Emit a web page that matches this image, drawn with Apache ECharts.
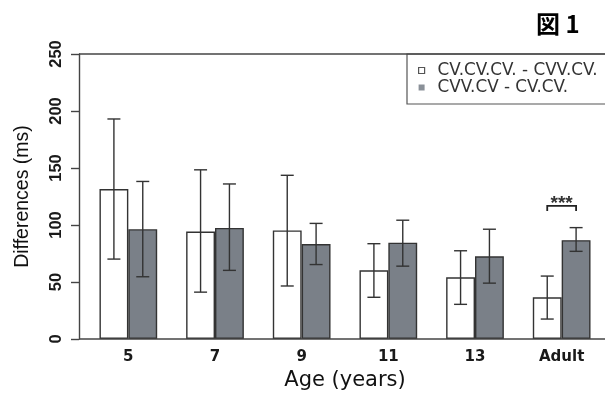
<!DOCTYPE html>
<html>
<head>
<meta charset="utf-8">
<script src="https://cdn.jsdelivr.net/npm/echarts@6/dist/echarts.min.js"></script>
<style>
html,body{margin:0;padding:0;background:#fff;}
#c{width:605px;height:396px;}
</style>
</head>
<body>
<div id="c"></div>
<script>
// ---- data ----
var categories = ['5', '7', '9', '11', '13', 'Adult'];
var seriesNames = ['CV.CV.CV. - CVV.CV.', 'CVV.CV - CV.CV.'];
var whiteMean = [131.5, 94.3, 95.2, 60.2, 54.1, 36.6];
var whiteHigh = [193, 148.4, 143.6, 83.6, 77.4, 55.2];
var whiteLow  = [70.1, 41.1, 46.5, 36.6, 30.4, 17.5];
var greyMean  = [96.3, 97.4, 83.3, 84.5, 72.6, 86.7];
var greyHigh  = [138.2, 136, 101.4, 104.2, 96.3, 97.7];
var greyLow   = [54.6, 60.2, 65.3, 63.9, 49, 76.9];
var yTicks = [0, 50, 100, 150, 200, 250];
var sigCategory = ['Adult'];
var sigTop = [116.8];
var sigLegBottom = [112.3];
var sigLabel = ['***'];

var LINE = '#444';
var GREY = '#7a8088';

function errData(lo, hi) {
  return categories.map(function (c, i) { return [i, lo[i], hi[i]]; });
}
function errRender(side) {
  return function (params, api) {
    var i = api.value(0);
    var pLo = api.coord([i, api.value(1)]);
    var pHi = api.coord([i, api.value(2)]);
    var band = api.size([1, 0])[0];
    var x = pLo[0] + side * band * (1 - 0.334) / 4;
    var cap = 6.5;
    var st = { stroke: '#333', lineWidth: 1.4 };
    return {
      type: 'group',
      children: [
        { type: 'line', shape: { x1: x, y1: pLo[1], x2: x, y2: pHi[1] }, style: st },
        { type: 'line', shape: { x1: x - cap, y1: pHi[1], x2: x + cap, y2: pHi[1] }, style: st },
        { type: 'line', shape: { x1: x - cap, y1: pLo[1], x2: x + cap, y2: pLo[1] }, style: st }
      ]
    };
  };
}

var chart = echarts.init(document.getElementById('c'), null, { renderer: 'canvas' });
var option = {
  animation: false,
  backgroundColor: '#fff',
  title: {
    text: '図 1', left: 536, top: 12, padding: 0,
    textStyle: { fontFamily: 'Noto Sans CJK JP', fontSize: 24, fontWeight: 'bold', color: '#000' }
  },
  legend: {
    orient: 'vertical', left: 407, top: 54,
    padding: [8, 60, 8, 11],
    itemGap: 0, itemWidth: 6, itemHeight: 6,
    icon: 'rect',
    borderColor: '#555', borderWidth: 1.2,
    textStyle: { fontFamily: 'DejaVu Sans', fontSize: 16.8, color: '#333', lineHeight: 14, padding: [0, 0, 0, 8] },
    data: [
      { name: seriesNames[0], itemStyle: { color: '#fff', borderColor: '#555', borderWidth: 1.2 } },
      { name: seriesNames[1], itemStyle: { color: '#8a9098', borderWidth: 0 } }
    ]
  },
  grid: { left: 85, right: -4, top: 54, bottom: 47, containLabel: false },
  xAxis: {
    type: 'category', data: categories,
    axisLine: { show: false }, axisTick: { show: false },
    axisLabel: { margin: 11, fontFamily: 'DejaVu Sans', fontWeight: 'bold', fontSize: 15, color: '#1a1a1a' },
    name: 'Age (years)', nameLocation: 'middle', nameGap: 31,
    nameTextStyle: { fontFamily: 'DejaVu Sans', fontSize: 21, color: '#111' }
  },
  yAxis: {
    type: 'value', min: 0, max: 250, interval: 50, offset: 6,
    axisLine: { show: true, lineStyle: { color: LINE, width: 1.4 } },
    axisTick: { show: true, length: 8, lineStyle: { color: LINE, width: 1.4 } },
    splitLine: { show: false },
    axisLabel: {
      rotate: 90, margin: 14, fontFamily: 'Liberation Sans', fontWeight: 'bold', fontSize: 16.5, color: '#1a1a1a',
      formatter: function (v) { return yTicks.indexOf(v) >= 0 ? String(v) : ''; }
    },
    name: 'Differences (ms)', nameLocation: 'middle', nameGap: 46,
    nameTextStyle: { fontFamily: 'Liberation Sans', fontSize: 19.5, color: '#111' }
  },
  series: [
    {
      name: seriesNames[0], type: 'bar', data: whiteMean,
      barGap: '0%', barCategoryGap: '33.4%',
      itemStyle: { color: '#fff', borderColor: '#333', borderWidth: 1.4 }
    },
    {
      name: seriesNames[1], type: 'bar', data: greyMean,
      barGap: '0%', barCategoryGap: '33.4%',
      itemStyle: { color: GREY, borderColor: '#333', borderWidth: 1.4 }
    },
    {
      type: 'custom', renderItem: errRender(-1), data: errData(whiteLow, whiteHigh),
      encode: { x: 0, y: [1, 2] }, z: 5, silent: true
    },
    {
      type: 'custom', renderItem: errRender(1), data: errData(greyLow, greyHigh),
      encode: { x: 0, y: [1, 2] }, z: 5, silent: true
    },
    {
      type: 'custom', z: 5, silent: true,
      data: sigCategory.map(function (c, k) { return [categories.indexOf(c), sigTop[k], sigLegBottom[k]]; }),
      encode: { x: 0, y: [1, 2] },
      renderItem: function (params, api) {
        var i = api.value(0);
        var pTop = api.coord([i, api.value(1)]);
        var pBot = api.coord([i, api.value(2)]);
        var band = api.size([1, 0])[0];
        var off = band * (1 - 0.334) / 4;
        var x1 = pTop[0] - off, x2 = pTop[0] + off;
        return {
          type: 'group',
          children: [
            { type: 'polyline', shape: { points: [[x1, pBot[1]], [x1, pTop[1]], [x2, pTop[1]], [x2, pBot[1]]] },
              style: { stroke: '#222', lineWidth: 1.8, fill: null } },
            { type: 'text', style: { text: sigLabel[params.dataIndex], x: pTop[0], y: pTop[1] - 2,
              align: 'center', verticalAlign: 'middle', fontFamily: 'Liberation Sans', fontSize: 19,
              fontWeight: 'bold', fill: '#333' } }
          ]
        };
      }
    }
  ]
};
chart.setOption(option);

// frame lines at the top (250) and bottom (0) of the plotting area
var yTopPx = chart.convertToPixel({ yAxisIndex: 0 }, 250);
var yBotPx = chart.convertToPixel({ yAxisIndex: 0 }, 0);
chart.setOption({
  graphic: [
    { type: 'line', shape: { x1: 79, y1: yTopPx, x2: 605, y2: yTopPx }, style: { stroke: LINE, lineWidth: 1.4 }, z: 10 },
    { type: 'line', shape: { x1: 79, y1: yBotPx, x2: 605, y2: yBotPx }, style: { stroke: LINE, lineWidth: 1.4 }, z: 10 }
  ]
});
</script>
</body>
</html>
